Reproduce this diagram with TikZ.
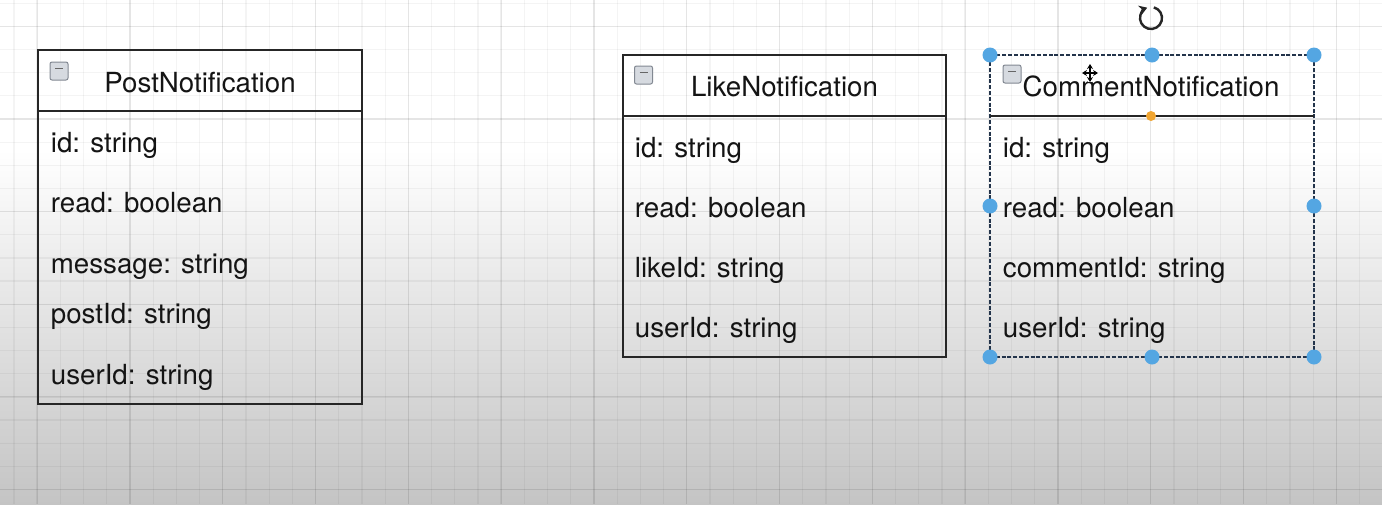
\documentclass[tikz,border=0pt]{standalone}
\usepackage{fontspec}
\setmainfont{TeX Gyre Heros}
\usetikzlibrary{arrows.meta}
\definecolor{handle}{RGB}{84,166,226}
\definecolor{selline}{RGB}{35,52,75}
\definecolor{iconfill}{RGB}{214,218,224}
\definecolor{iconline}{RGB}{130,136,146}
\definecolor{dotorange}{RGB}{240,165,50}
\definecolor{shadebot}{RGB}{196,196,196}
\tikzset{
  classbox/.style={draw=black!85, line width=1pt, inner sep=0pt, minimum width=162pt},
  selbox/.style={draw=selline, line width=1pt, dash pattern=on 2pt off 0.9pt, inner sep=0pt, minimum width=162pt},
  sepline/.style={draw=black!85, line width=1pt},
  ctitle/.style={anchor=base, inner sep=0pt, text=black!92, font=\fontsize{13.85}{16}\selectfont},
  attr/.style={anchor=base west, inner sep=0pt, text=black!92, font=\fontsize{13.85}{16}\selectfont},
  collapse/.style={draw=iconline, fill=iconfill, line width=0.5pt, rounded corners=1pt, minimum size=9pt, inner sep=0pt},
  handledot/.style={circle, fill=handle, minimum size=7.5pt, inner sep=0pt},
  minorgrid/.style={draw=black, opacity=0.045, line width=0.6pt},
  majorgrid/.style={draw=black, opacity=0.06, line width=0.7pt}
}
\begin{document}
\begin{tikzpicture}[x=0.5pt,y=-0.5pt]
\useasboundingbox (0,0) rectangle (1382,504);
% background
\fill[white] (0,0) rectangle (1382,150);
\shade[top color=white, bottom color=shadebot] (0,150) rectangle (1382,504);
% grid
\foreach \i in {-1,...,58} {
  \draw[minorgrid] ({37.1+\i*23.2},0) -- ({37.1+\i*23.2},504);
}
\foreach \j in {-1,...,21} {
  \draw[minorgrid] (0,{26.4+\j*23.15}) -- (1382,{26.4+\j*23.15});
}
\foreach \i in {0,...,14} {
  \draw[majorgrid] ({37.1+\i*92.8},0) -- ({37.1+\i*92.8},504);
}
\foreach \j in {0,...,5} {
  \draw[majorgrid] (0,{26.4+\j*92.6}) -- (1382,{26.4+\j*92.6});
}

% ---------- PostNotification ----------
\node[classbox, minimum height=177pt] (post) at (200,227) {};
\coordinate (postL) at (38,111);
\coordinate (postR) at (362,111);
\draw[sepline] (postL) -- (postR);
\node[collapse] (postIcon) at (59,71) {};
\draw[black!60, line width=0.6pt] (55,68.5) -- (63,68.5);
\node[ctitle] (postT) at (200,92) {PostNotification};
\node[attr] (postA1) at (50.5,152) {id: string};
\node[attr] (postA2) at (50.5,212) {read: boolean};
\node[attr] (postA3) at (50.5,273) {message: string};
\node[attr] (postA4) at (50.5,323) {postId: string};
\node[attr] (postA5) at (50.5,384) {userId: string};

% ---------- LikeNotification ----------
\node[classbox, minimum width=161.5pt, minimum height=151pt] (like) at (784.5,206) {};
\coordinate (likeL) at (623,116);
\coordinate (likeR) at (946,116);
\draw[sepline] (likeL) -- (likeR);
\node[collapse] (likeIcon) at (643.5,75) {};
\draw[black!60, line width=0.6pt] (639.5,72.5) -- (647.5,72.5);
\node[ctitle] (likeT) at (784.5,96.5) {LikeNotification};
\node[attr] (likeA1) at (634.5,157) {id: string};
\node[attr] (likeA2) at (634.5,217) {read: boolean};
\node[attr] (likeA3) at (634.5,277) {likeId: string};
\node[attr] (likeA4) at (634.5,337) {userId: string};

% ---------- CommentNotification (selected) ----------
\node[selbox, minimum height=151pt] (comm) at (1152,206) {};
\coordinate (commL) at (990,116);
\coordinate (commR) at (1314,116);
\draw[sepline] (commL) -- (commR);
\node[collapse] (commIcon) at (1012,74) {};
\draw[black!60, line width=0.6pt] (1008,71.5) -- (1016,71.5);
\node[ctitle] (commT) at (1151,96.5) {CommentNotification};
\node[attr] (commA1) at (1002.5,157) {id: string};
\node[attr] (commA2) at (1002.5,217) {read: boolean};
\node[attr] (commA3) at (1002.5,277) {commentId: string};
\node[attr] (commA4) at (1002.5,337) {userId: string};

% orange connection point
\node[circle, fill=dotorange, minimum size=5pt, inner sep=0pt] (commDot) at (1151,116) {};

% selection handles
\node[handledot] (h1) at (990,55) {};
\node[handledot] (h2) at (1152,55) {};
\node[handledot] (h3) at (1314,55) {};
\node[handledot] (h4) at (990,206) {};
\node[handledot] (h5) at (1314,206) {};
\node[handledot] (h6) at (990,357) {};
\node[handledot] (h7) at (1152,357) {};
\node[handledot] (h8) at (1314,357) {};

% rotation handle
\coordinate (rot) at (1151,18);
\draw[black!85, line width=1.2pt, -{Stealth[length=4pt,width=5pt]}]
  ([shift={(285:11)}]rot) arc[start angle=285, end angle=610, radius=11];

% move cursor
\coordinate (cur) at (1090,73);
\draw[white, line width=1.6pt] (1090,64) -- (1090,82) (1082,73) -- (1098,73);
\draw[black, line width=0.7pt, {Stealth[length=2.5pt,width=3pt]}-{Stealth[length=2.5pt,width=3pt]}] (1090,64) -- (1090,82);
\draw[black, line width=0.7pt, {Stealth[length=2.5pt,width=3pt]}-{Stealth[length=2.5pt,width=3pt]}] (1082,73) -- (1098,73);
\end{tikzpicture}
\end{document}
